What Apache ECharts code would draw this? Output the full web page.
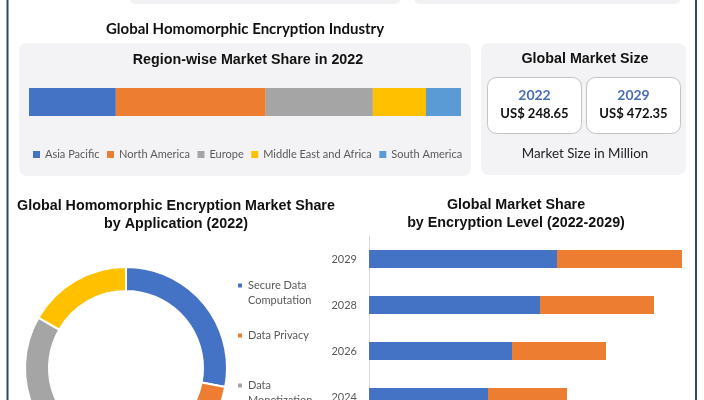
<!DOCTYPE html>
<html><head><meta charset="utf-8">
<script src="https://cdn.jsdelivr.net/npm/echarts@6/dist/echarts.min.js"></script>
<style>html,body{margin:0;padding:0;background:#fff;overflow:hidden}#wrap{width:704px;height:400px;overflow:hidden}#c{width:704px;height:480px}</style>
</head><body><div id="wrap"><div id="c"></div></div>
<script>
// ---- data ----
const regionNames = ['Asia Pacific','North America','Europe','Middle East and Africa','South America'];
const regionShare = [20.1, 34.7, 24.8, 12.3, 8.1];
const regionColors = ['#4472c4','#ed7d31','#a5a5a5','#ffc000','#5b9bd5'];

const marketYears = ['2022','2029'];
const marketValues = ['US$ 248.65','US$ 472.35'];

const appNames = ['Secure Data Computation','Data Privacy','Data Monetization','Others'];
const appShare = [28, 15, 40.3, 16.7];
const appColors = ['#4472c4','#ed7d31','#a5a5a5','#ffc000'];

const levelYears = ['2029','2028','2026','2024'];
const levelA = [188, 171, 143, 119];
const levelB = [125, 114, 94, 79];

const boldA = 'bold 14.3px "Liberation Sans", Arial, sans-serif';
const calibri = 'Lato, "Open Sans", sans-serif';

const chart = echarts.init(document.getElementById('c'), null, {renderer:'canvas'});

function txt(x, y, text, font, fill, align){
  return {type:'text', x:x, y:y, z:10, style:{text:text, font:font, fill:fill||'#000',
    align:align||'center', textAlign:align||'center', verticalAlign:'middle', textVerticalAlign:'middle'}};
}

const graphics = [
  {type:'rect', shape:{x:6.5, y:0, width:2, height:480}, style:{fill:'#2f4b5f'}},
  {type:'rect', shape:{x:695, y:0, width:2, height:480}, style:{fill:'#2f4b5f'}},
  {type:'rect', shape:{x:130, y:-20, width:271, height:24, r:6}, style:{fill:'#f1f1f3'}},
  {type:'rect', shape:{x:414, y:-20, width:267, height:24, r:6}, style:{fill:'#f1f1f3'}},
  {type:'rect', shape:{x:19, y:43, width:452, height:133, r:8}, style:{fill:'#f3f3f5'}, z:-1},
  {type:'rect', shape:{x:481, y:43, width:205, height:132, r:8}, style:{fill:'#f3f3f5'}, z:-1},
  {type:'rect', shape:{x:487.5, y:77.5, width:94, height:56, r:9}, style:{fill:'#fff', stroke:'#c4c4c4', lineWidth:1}},
  {type:'rect', shape:{x:586.5, y:77.5, width:94, height:56, r:9}, style:{fill:'#fff', stroke:'#c4c4c4', lineWidth:1}},
  txt(245, 29, 'Global Homomorphic Encryption Industry', 'bold 15px ' + calibri, '#111'),
  txt(248, 60, 'Region-wise Market Share in 2022', boldA, '#111'),
  txt(585, 59, 'Global Market Size', boldA, '#111'),
  txt(534.5, 95, marketYears[0], 'bold 14px ' + calibri, '#4a6db3'),
  txt(633.5, 95, marketYears[1], 'bold 14px ' + calibri, '#4a6db3'),
  txt(534.5, 114, marketValues[0], 'bold 13px ' + calibri, '#111'),
  txt(633.5, 114, marketValues[1], 'bold 13px ' + calibri, '#111'),
  txt(585, 154, 'Market Size in Million', '13.4px ' + calibri, '#222'),
  txt(176, 206, 'Global Homomorphic Encryption Market Share', boldA, '#111'),
  txt(176, 224, 'by Application (2022)', boldA, '#111'),
  txt(516, 205, 'Global Market Share', boldA, '#111'),
  txt(516, 223, 'by Encryption Level (2022-2029)', boldA, '#111')
];

const series = [];
regionNames.forEach((n, i) => {
  series.push({type:'bar', name:n, stack:'region', xAxisIndex:0, yAxisIndex:0,
    data:[regionShare[i]], barWidth:28, itemStyle:{color:regionColors[i]}, silent:true});
});
series.push({type:'pie', center:[126, 368], radius:[77, 101], startAngle:90, clockwise:true,
  label:{show:false}, labelLine:{show:false}, silent:true,
  itemStyle:{borderColor:'#fff', borderWidth:2},
  data: appNames.map((n, i) => ({name:n, value:appShare[i], itemStyle:{color:appColors[i]}}))});
series.push({type:'bar', name:'Level A', stack:'lvl', xAxisIndex:1, yAxisIndex:1, data:levelA,
  barWidth:18, itemStyle:{color:'#4472c4'}, silent:true});
series.push({type:'bar', name:'Level B', stack:'lvl', xAxisIndex:1, yAxisIndex:1, data:levelB,
  barWidth:18, itemStyle:{color:'#ed7d31'}, silent:true});

const pieLegendFmt = function(name){
  if (name === 'Secure Data Computation') return '\nSecure Data\nComputation';
  if (name === 'Data Monetization') return '\nData\nMonetization';
  return name;
};

chart.setOption({
  animation:false,
  backgroundColor:'#fff',
  graphic: graphics,
  grid:[
    {left:29, top:88, width:432, height:28},
    {left:369, top:236, width:320, height:184}
  ],
  xAxis:[
    {type:'value', gridIndex:0, min:0, max:100, show:false},
    {type:'value', gridIndex:1, min:0, max:320, show:false}
  ],
  yAxis:[
    {type:'category', gridIndex:0, data:['2022'], show:false},
    {type:'category', gridIndex:1, data:levelYears, inverse:true,
      axisLine:{lineStyle:{color:'#d9d9d9'}},
      axisTick:{length:5, lineStyle:{color:'#d9d9d9'}},
      axisLabel:{color:'#595959', fontSize:11, fontFamily:calibri, margin:12}}
  ],
  legend:[
    {data:regionNames, left:28, top:144, itemWidth:7, itemHeight:7, itemGap:7.5, icon:'rect',
      textStyle:{color:'#595959', fontSize:11, fontFamily:calibri}, selectedMode:false},
    {data:appNames.slice(0,3), orient:'vertical', left:231, top:258, itemWidth:6, itemHeight:6, itemGap:20, icon:'rect',
      formatter: pieLegendFmt, textStyle:{color:'#595959', fontSize:11, fontFamily:calibri, lineHeight:15}, selectedMode:false}
  ],
  series: series
});
</script></body></html>
